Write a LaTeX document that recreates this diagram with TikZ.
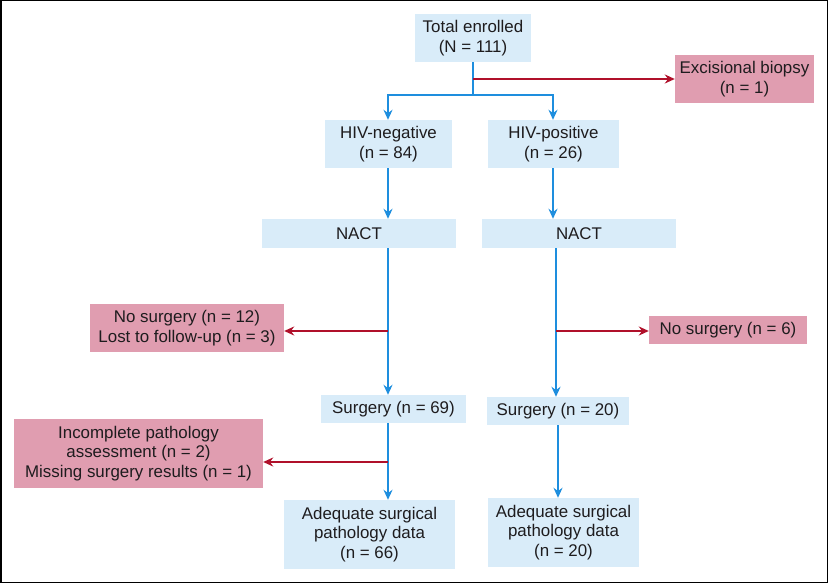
\documentclass[tikz,border=0pt]{standalone}
\usepackage{fontspec}
\setmainfont{Liberation Sans}
\usetikzlibrary{arrows.meta}
\definecolor{boxblue}{RGB}{217,236,249}
\definecolor{boxpink}{RGB}{224,157,176}
\definecolor{lineblue}{RGB}{30,142,222}
\definecolor{linered}{RGB}{176,16,42}
\definecolor{txt}{RGB}{30,28,30}
\tikzset{
  bbox/.style={fill=boxblue, draw=none, align=center, inner sep=0pt, text=txt,
    font=\fontsize{16.9}{19.5}\selectfont},
  pbox/.style={fill=boxpink, draw=none, align=center, inner sep=0pt, text=txt,
    font=\fontsize{16.9}{19.5}\selectfont},
  barrow/.style={draw=lineblue, line width=1.9pt, -{Stealth[length=10pt,width=9pt]}},
  bline/.style={draw=lineblue, line width=1.9pt},
  rarrow/.style={draw=linered, line width=1.9pt, -{Stealth[length=10pt,width=9pt]}},
}
\begin{document}
\begin{tikzpicture}[x=1pt,y=-1pt]
\useasboundingbox (0,0) rectangle (828,583);
\draw[line width=1.5pt, black] (0.75,0.75) rectangle (827.25,582.25);

\node[bbox, minimum width=116pt, minimum height=48pt] (total) at (473,38) {Total enrolled\\(N = 111)};
\node[pbox, minimum width=139pt, minimum height=48pt] (excis) at (744.5,79) {Excisional biopsy\\(n = 1)};
\node[bbox, minimum width=127pt, minimum height=48pt] (hivneg) at (388.5,144) {HIV-negative\\(n = 84)};
\node[bbox, minimum width=131pt, minimum height=48pt] (hivpos) at (553.5,144) {HIV-positive\\(n = 26)};
\node[bbox, minimum width=194pt, minimum height=29pt] (nactL) at (359,233.5) {NACT};
\node[bbox, minimum width=194pt, minimum height=29pt] (nactR) at (579,233.5) {NACT};
\node[pbox, minimum width=194pt, minimum height=48pt] (nosurgL) at (187,328) {No surgery (n = 12)\\Lost to follow-up (n = 3)};
\node[pbox, minimum width=158pt, minimum height=28pt] (nosurgR) at (728,330) {No surgery (n = 6)};
\node[bbox, minimum width=145pt, minimum height=28pt] (surg69) at (393.5,409) {Surgery (n = 69)};
\node[bbox, minimum width=142pt, minimum height=28pt] (surg20) at (558,411) {Surgery (n = 20)};
\node[pbox, minimum width=249pt, minimum height=69pt] (incomp) at (138.5,453.5) {Incomplete pathology\\assessment (n = 2)\\Missing surgery results (n = 1)};
\node[bbox, minimum width=171pt, minimum height=69pt] (adeq66) at (369.5,534.5) {Adequate surgical\\pathology data\\(n = 66)};
\node[bbox, minimum width=151pt, minimum height=69pt] (adeq20) at (563.5,532.5) {Adequate surgical\\pathology data\\(n = 20)};

% column coordinates
\coordinate (split) at (473,95);
\coordinate (sideT) at (473,79);
\coordinate (colL) at (388,0);
\coordinate (colR) at (553,0);
\coordinate (colR2) at (556,0);
\coordinate (colR3) at (558,0);
\coordinate (sideL1) at (388,331);
\coordinate (sideR1) at (556,331);
\coordinate (sideL2) at (388,462);

% top split
\draw[bline] (total.south) -- (split);
\draw[barrow] (split) -| (hivneg.north -| colL);
\draw[barrow] (split) -| (hivpos.north -| colR);
\draw[rarrow] (sideT) -- (excis.west |- sideT);

% to NACT
\draw[barrow] (hivneg.south -| colL) -- (nactL.north -| colL);
\draw[barrow] (hivpos.south -| colR) -- (nactR.north -| colR);

% to surgery
\draw[barrow] (nactL.south -| colL) -- (surg69.north -| colL);
\draw[barrow] (nactR.south -| colR2) -- (surg20.north -| colR2);
\draw[rarrow] (sideL1) -- (nosurgL.east |- sideL1);
\draw[rarrow] (sideR1) -- (nosurgR.west |- sideR1);

% to adequate
\draw[barrow] (surg69.south -| colL) -- (adeq66.north -| colL);
\draw[barrow] (surg20.south -| colR3) -- (adeq20.north -| colR3);
\draw[rarrow] (sideL2) -- (incomp.east |- sideL2);
\end{tikzpicture}
\end{document}
